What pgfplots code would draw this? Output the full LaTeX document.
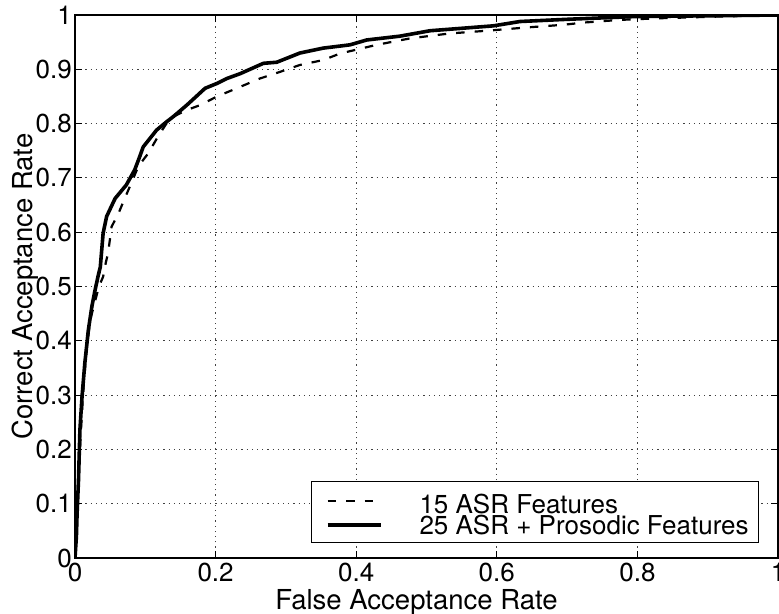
\documentclass[border=0pt]{standalone}
\usepackage{pgfplots}
\pgfplotsset{compat=1.18}
\usepackage{fontspec}
\setmainfont{TeX Gyre Heros}

% ROC curves: correct acceptance vs. false acceptance
\pgfplotstableread{
far    car
0      0
0.002  0.05
0.004  0.12
0.007  0.20
0.010  0.27
0.013  0.33
0.017  0.39
0.022  0.44
0.028  0.47
0.034  0.50
0.040  0.518
0.044  0.545
0.047  0.561
0.050  0.590
0.052  0.610
0.062  0.635
0.070  0.660
0.078  0.684
0.090  0.721
0.104  0.745
0.118  0.776
0.130  0.800
0.140  0.813
0.159  0.825
0.178  0.834
0.202  0.850
0.230  0.865
0.263  0.883
0.291  0.895
0.320  0.908
0.353  0.917
0.377  0.929
0.429  0.945
0.477  0.957
0.533  0.966
0.586  0.971
0.642  0.977
0.695  0.982
0.723  0.986
0.775  0.991
0.832  0.994
0.913  0.997
1.000  1.000
}\asrfeat

\pgfplotstableread{
far    car
0      0
0.002  0.04
0.003  0.083
0.005  0.144
0.007  0.236
0.010  0.297
0.014  0.359
0.019  0.420
0.024  0.463
0.028  0.490
0.033  0.520
0.036  0.536
0.040  0.598
0.045  0.629
0.057  0.662
0.073  0.687
0.085  0.715
0.092  0.739
0.097  0.757
0.116  0.788
0.130  0.803
0.140  0.813
0.159  0.834
0.175  0.853
0.185  0.865
0.202  0.874
0.216  0.883
0.235  0.892
0.268  0.911
0.287  0.913
0.320  0.930
0.353  0.939
0.391  0.945
0.415  0.954
0.462  0.961
0.505  0.971
0.595  0.980
0.633  0.988
0.699  0.992
0.794  0.997
1.000  1.000
}\prosfeat

\begin{document}
\begin{tikzpicture}
\begin{axis}[
  name=ax,
  scale only axis,
  width=703bp, height=543bp,
  xmin=0, xmax=1, ymin=0, ymax=1,
  xtick={0,0.2,...,1.0},
  ytick={0,0.1,...,1.0},
  font=\fontsize{26bp}{30bp}\selectfont,
  /pgf/number format/assume math mode=true,
  every tick label/.append style={inner sep=0bp},
  yticklabel style={xshift=-3bp},
  xticklabel style={yshift=-5bp},
  tick align=inside,
  major tick length=7bp,
  every tick/.append style={line width=1bp, black},
  axis line style={line width=1.3bp},
  grid=major,
  major grid style={line width=0.9bp, black!75, dash pattern=on 1.2bp off 4bp},
  xlabel={False Acceptance Rate},
  ylabel={Correct Acceptance Rate},
  xlabel style={font=\fontsize{27.5bp}{32bp}\selectfont,
    at={([xshift=-10bp,yshift=-51bp]axis description cs:0.5,0)}, anchor=base},
  ylabel style={font=\fontsize{27.5bp}{32bp}\selectfont,
    at={([xshift=-42bp]axis description cs:0,0.5)}, anchor=base},
  legend image code/.code={%
    \draw[#1] (0bp,0bp) -- (53bp,0bp);
    \path (90bp,0bp);},
  legend cell align=left,
  legend style={
    at={(1,0)}, anchor=south east, xshift=-19bp, yshift=15bp,
    draw=black, line width=1bp, fill=white,
    inner xsep=14bp, inner ysep=7bp,
    row sep=0bp, column sep=0bp,
    nodes={inner sep=0bp},
  },
]
\addplot[black, line width=2.2bp, dash pattern=on 8.5bp off 10bp]
  table[x=far, y=car] {\asrfeat};
\addlegendentry{\rule[-6bp]{0pt}{31bp}\makebox[325bp][l]{15 ASR Features}}
\addplot[black, line width=3.6bp, line join=round]
  table[x=far, y=car] {\prosfeat};
\addlegendentry{\rule[-6bp]{0pt}{24bp}\makebox[325bp][l]{25 ASR + Prosodic Features}}
\end{axis}
\pgfresetboundingbox
\path ([xshift=-75bp,yshift=-56bp]ax.south west) rectangle ([xshift=1bp,yshift=15bp]ax.north east);
\end{tikzpicture}
\end{document}
